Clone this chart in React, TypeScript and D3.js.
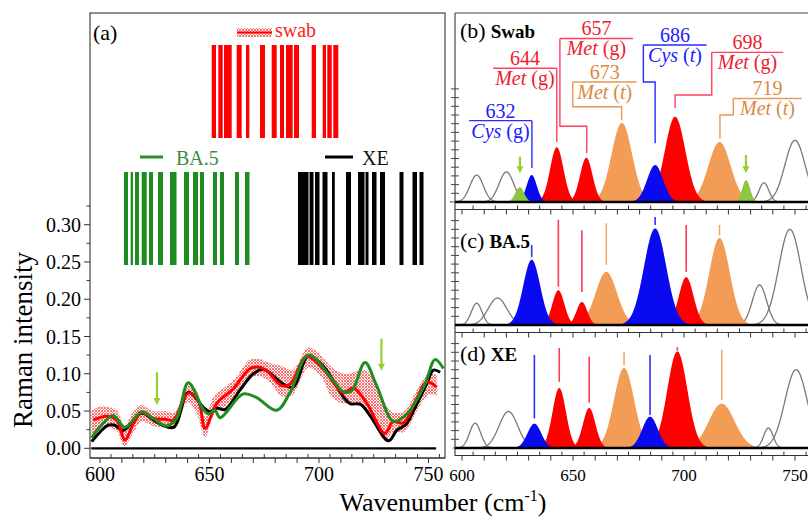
import React from 'react';
import * as d3 from 'd3';

const SERIF = "'Liberation Serif','Times New Roman',Times,serif";

// ---------- Panel (a): averaged spectra ----------
const xeWn = [596.2, 603.8, 606.8, 610.6, 619, 625.9, 633.5, 640.3, 647.2, 650.2, 653.3, 657, 663.9, 670, 674.6, 683.7, 688.3, 695.1, 702, 711.1, 714.2, 719, 723.3, 731.7, 735.5, 740, 743.1, 749.1, 752.2, 755.3];
const xeVal = [0.009, 0.031, 0.031, 0.024, 0.047, 0.035, 0.028, 0.075, 0.055, 0.049, 0.054, 0.052, 0.078, 0.1, 0.106, 0.086, 0.082, 0.124, 0.11, 0.069, 0.06, 0.059, 0.044, 0.01, 0.024, 0.033, 0.05, 0.086, 0.105, 0.102];

const swabWn = [597, 603, 607.6, 611.4, 615.2, 619, 624.3, 629.7, 633.5, 640.3, 644.9, 648, 653.3, 660.9, 668.5, 672.3, 676.1, 683, 686.8, 694.3, 701.2, 708.8, 711.1, 715.7, 721.7, 730.1, 733.9, 738.5, 744.6, 749.1, 753.7];
const swabVal = [0.038, 0.043, 0.038, 0.011, 0.033, 0.048, 0.04, 0.039, 0.038, 0.074, 0.064, 0.027, 0.06, 0.08, 0.107, 0.109, 0.104, 0.084, 0.086, 0.123, 0.109, 0.08, 0.074, 0.081, 0.061, 0.02, 0.036, 0.034, 0.066, 0.089, 0.082];

const ba5Wn = [596.2, 600, 606.1, 611.4, 619, 624.3, 630.4, 635, 640.3, 647.2, 649.5, 652.5, 654.8, 665.4, 671.5, 680.7, 686.8, 695.1, 706.5, 711.1, 714.9, 721, 726.3, 733.9, 738.5, 741.6, 748.4, 753, 756.8];
const ba5Val = [0.014, 0.029, 0.044, 0.028, 0.049, 0.04, 0.03, 0.04, 0.088, 0.052, 0.046, 0.051, 0.041, 0.073, 0.068, 0.051, 0.075, 0.125, 0.091, 0.076, 0.077, 0.115, 0.084, 0.036, 0.042, 0.051, 0.086, 0.119, 0.107];

const bandWn = [596, 600, 604, 608, 611, 615, 619, 624, 630, 634, 640, 644, 648, 652, 657, 662, 668, 672, 677, 683, 688, 695, 701, 706, 711, 716, 721, 726, 730, 734, 739, 745, 750, 754];
const bandUpper = [0.05, 0.056, 0.055, 0.05, 0.03, 0.048, 0.058, 0.05, 0.05, 0.048, 0.085, 0.078, 0.042, 0.07, 0.082, 0.095, 0.118, 0.12, 0.115, 0.11, 0.105, 0.135, 0.124, 0.108, 0.1, 0.102, 0.105, 0.09, 0.06, 0.048, 0.05, 0.08, 0.1, 0.098];
const bandLower = [0.012, 0.025, 0.028, 0.022, 0.003, 0.02, 0.036, 0.03, 0.028, 0.027, 0.062, 0.048, 0.015, 0.045, 0.056, 0.068, 0.094, 0.097, 0.09, 0.07, 0.072, 0.108, 0.096, 0.068, 0.06, 0.062, 0.052, 0.032, 0.01, 0.022, 0.022, 0.052, 0.072, 0.07];

const yTicksA = d3.range(0, 0.3001, 0.05);
const yMinorA = d3.range(0.025, 0.3251, 0.05);
const xTickLabels = [600, 650, 700, 750];

// barcodes: [start, width] in strip units (0..128)
const swabBars = [[1.7, 4.3], [8.3, 4.4], [14, 7.7], [26.7, 5], [36, 3.3], [50, 5], [61.7, 5], [70, 4], [76, 6.7], [84, 5], [101.7, 4.3], [112.7, 3.3], [117.3, 4.4], [123.3, 5]];
const ba5Bars = [[1, 4], [7.7, 2.3], [12, 4], [18.7, 5], [26, 4], [35, 5], [47, 6.5], [61, 5], [70, 5], [77, 4], [90, 4], [97, 4], [112, 4], [122, 4.5]];
const xeBars = [[0, 10.5], [11.5, 4], [17, 4.5], [24.5, 5], [34, 2.8], [48, 5], [60, 6.5], [67.5, 3], [74, 4.5], [82, 5], [101.5, 4], [114.5, 4.5], [121.5, 4]];

const arrowsA = [{ wn: 626, from: 0.102, to: 0.058 }, { wn: 728.5, from: 0.147, to: 0.104 }];

// ---------- Panels (b)-(d): fitted bands ----------
const swabCenters = [606.6, 620, 626, 631.4, 642.7, 656, 672, 687, 696, 716, 728, 736, 750];
const swabAmps = [3.1, 3.45, 1.7, 3.1, 6.3, 5.1, 9.1, 4.25, 9.8, 6.9, 2.5, 2.2, 7.1];
const swabSigmas = [3, 3.3, 2, 2.3, 3, 2.8, 4.6, 3.6, 4.6, 5, 1.8, 2.2, 4.5];
const swabKinds = ['gray', 'gray', 'green', 'blue', 'red', 'red', 'orange', 'blue', 'red', 'orange', 'green', 'gray', 'gray'];

const ba5Centers = [606.6, 616, 631.4, 643.4, 654, 665, 687, 701, 716, 734, 747.7];
const ba5Amps = [2.5, 3.1, 7.5, 4.0, 2.65, 6.1, 11.1, 5.5, 10, 4.6, 11];
const ba5Sigmas = [2.4, 4.2, 3.8, 2.7, 2.4, 4.8, 5, 3.3, 4.6, 3.2, 5];
const ba5Kinds = ['gray', 'gray', 'blue', 'red', 'red', 'orange', 'blue', 'red', 'orange', 'gray', 'gray'];
const ba5MarkTop = [null, null, 9.2, 12.1, 10.9, 11.7, 12.4, 11.5, 11.5, null, null];
const ba5MarkBottom = [null, null, 7.8, 4.4, 3.8, 6.9, 11.5, 6.1, 10.3, null, null];

const xeCenters = [605.9, 620.9, 632.6, 643.8, 657.3, 673, 684.7, 697, 717, 738, 750.5];
const xeAmps = [2.85, 4.2, 2.8, 6.9, 4.6, 9.2, 3.6, 11.1, 5.1, 2.3, 9.0];
const xeSigmas = [2.5, 4.2, 3.1, 3, 2.8, 4.5, 3.5, 4.5, 5.8, 2.1, 5];
const xeKinds = ['gray', 'gray', 'blue', 'red', 'red', 'orange', 'blue', 'red', 'orange', 'gray', 'gray'];
const xeMarkTop = [null, null, 10.7, 11.5, 10.5, 11, 10.7, 11.6, 11.3, null, null];
const xeMarkBottom = [null, null, 3.4, 7.6, 5.2, 9.5, 3.8, 11.2, 5.5, null, null];

// annotation of the swab bands: number, residue, conformer
const annoNum = ['632', '644', '657', '673', '686', '698', '719'];
const annoName = ['Cys', 'Met', 'Met', 'Met', 'Cys', 'Met', 'Met'];
const annoState = ['g', 'g', 'g', 't', 't', 'g', 't'];
const annoKind = ['blue', 'red', 'red', 'orange', 'blue', 'red', 'orange'];
const annoLineY = [9.35, 15.37, 18.8, 13.8, 18.05, 17.2, 11.9];
const annoX1 = [603.2, 614, 644.1, 649.9, 681.7, 712.5, 722.2];
const annoX2 = [631.5, 642.7, 677, 678.7, 710.2, 744.7, 753];
const annoLeadX = [631.5, 642.7, 644.1, 649.9, 681.7, 712.5, 722.2];
const annoElbowY = [3.9, 6.9, 8.7, 10.95, 13.8, 12.3, 10];
const annoPeakX = [631.5, 642.7, 656.2, 671.9, 687, 696, 716.2];
const annoEndY = [3.9, 6.9, 5.6, 9.4, 6.75, 10.8, 7.3];

const arrowsB = [{ wn: 626.1, from: 5.2, to: 3.3 }, { wn: 727.9, from: 5.4, to: 3.3 }];

const FILL: Record<string, string> = { red: '#ff0000', blue: '#0a0af0', orange: '#f39c56', green: '#8dc63f' };
const MARK: Record<string, string> = { red: '#ff3b5c', blue: '#3030ff', orange: '#f2a86a' };
const TXT: Record<string, string> = { red: '#ee1c2e', blue: '#1a1aff', orange: '#d98a3f' };
const LEAD: Record<string, string> = { red: '#ff4060', blue: '#2a2aff', orange: '#e59a55' };

function gauss(c: number, a: number, s: number): [number, number][] {
  return d3.range(c - 4 * s, c + 4 * s + 1e-6, s / 25).map((x) => [x, a * Math.exp(-((x - c) ** 2) / (2 * s * s))] as [number, number]);
}

export default function App() {
  // panel a scales
  const xa = d3.scaleLinear().domain([600, 750]).range([100, 428.5]);
  const ya = d3.scaleLinear().domain([0, 0.3]).range([448.3, 224.7]);
  const lineA = (wn: number[], v: number[]) =>
    d3.line<number>().x((_, i) => xa(wn[i])).y((d) => ya(d)).curve(d3.curveCatmullRom.alpha(0.5))(v) || '';
  const bandPath =
    d3.area<number>().x((_, i) => xa(bandWn[i])).y0((_, i) => ya(bandLower[i])).y1((d) => ya(d)).curve(d3.curveCatmullRom.alpha(0.5))(bandUpper) || '';

  // right panels
  const xr = d3.scaleLinear().domain([600, 750]).range([462, 795]);
  const panels = [
    { tag: '(b)', title: 'Swab', base: 202, nTicks: 13, centers: swabCenters, amps: swabAmps, sig: swabSigmas, kinds: swabKinds, mt: null as any, mb: null as any, labelY: 38 },
    { tag: '(c)', title: 'BA.5', base: 325, nTicks: 12, centers: ba5Centers, amps: ba5Amps, sig: ba5Sigmas, kinds: ba5Kinds, mt: ba5MarkTop, mb: ba5MarkBottom, labelY: 248 },
    { tag: '(d)', title: 'XE', base: 448, nTicks: 12, centers: xeCenters, amps: xeAmps, sig: xeSigmas, kinds: xeKinds, mt: xeMarkTop, mb: xeMarkBottom, labelY: 361 },
  ];
  const order = ['gray', 'orange', 'red', 'blue', 'green'];
  const xTicksAll = d3.range(600, 756, 5);

  const stripSwab = d3.scaleLinear().domain([0, 128]).range([210, 338]);
  const stripBa5 = d3.scaleLinear().domain([0, 128]).range([123, 251]);
  const stripXe = d3.scaleLinear().domain([0, 128]).range([298, 426]);

  const xAxisTicks = (scale: d3.ScaleLinear<number, number>, y: number, key: string) =>
    xTicksAll.map((t) => {
      const major = t % 10 === 0;
      return <line key={key + t} x1={scale(t)} x2={scale(t)} y1={major ? y : y - 4} y2={major ? y + 5 : y} stroke="#333" strokeWidth={1} />;
    });

  const arrow = (x: number, y1: number, y2: number, k: string) => (
    <g key={k}>
      <line x1={x} x2={x} y1={y1} y2={y2 - 5} stroke="#9acd32" strokeWidth={2.2} />
      <path d={`M${x - 3.5},${y2 - 7} L${x + 3.5},${y2 - 7} L${x},${y2} Z`} fill="#9acd32" />
    </g>
  );

  return (
    <svg width={808} height={518} style={{ position: 'absolute', left: 0, top: 0, background: '#fff' }} fontFamily={SERIF}>
      <defs>
        <pattern id="hatch" width={3} height={3} patternUnits="userSpaceOnUse">
          <path d="M0,0 L3,3 M3,0 L0,3" stroke="#ff2a2a" strokeWidth={0.9} opacity={0.75} />
        </pattern>
        <clipPath id="clipA">
          <rect x={90} y={13} width={355} height={445} />
        </clipPath>
      </defs>

      {/* ---------- Panel (a) ---------- */}
      <rect x={90} y={13} width={355} height={445} fill="none" stroke="#444" strokeWidth={1.2} />
      <text x={93} y={40} fontSize={22}>(a)</text>

      {/* swab legend & barcode */}
      <rect x={237} y={28} width={35} height={9} fill="url(#hatch)" />
      <line x1={237} x2={272} y1={32.5} y2={32.5} stroke="#ff0000" strokeWidth={2} />
      <text x={275} y={37} fontSize={20} fill="#ff2020">swab</text>
      {swabBars.map(([s, w], i) => (
        <rect key={'sb' + i} x={stripSwab(s)} y={45} width={stripSwab(s + w) - stripSwab(s)} height={93} fill="#ff0000" />
      ))}

      <line x1={140} x2={163} y1={157} y2={157} stroke="#2e8b2e" strokeWidth={3} />
      <text x={176} y={165} fontSize={20} fill="#3c8c3c">BA.5</text>
      {ba5Bars.map(([s, w], i) => (
        <rect key={'gb' + i} x={stripBa5(s)} y={172} width={stripBa5(s + w) - stripBa5(s)} height={93} fill="#1e8c1e" />
      ))}

      <line x1={325} x2={353} y1={157} y2={157} stroke="#000" strokeWidth={3} />
      <text x={362} y={165} fontSize={20} fill="#111">XE</text>
      {xeBars.map(([s, w], i) => (
        <rect key={'kb' + i} x={stripXe(s)} y={172} width={stripXe(s + w) - stripXe(s)} height={93} fill="#000" />
      ))}

      {/* y axis a */}
      {yTicksA.map((t) => (
        <g key={'ya' + t}>
          <line x1={84} x2={90} y1={ya(t)} y2={ya(t)} stroke="#333" />
          <text x={81} y={ya(t) + 7} fontSize={20} textAnchor="end">{t.toFixed(2)}</text>
        </g>
      ))}
      {yMinorA.map((t) => (
        <line key={'ym' + t} x1={86.5} x2={90} y1={ya(t)} y2={ya(t)} stroke="#333" />
      ))}
      <text transform={`translate(32,340) rotate(-90)`} fontSize={27} textAnchor="middle">Raman intensity</text>

      {/* spectra */}
      <g clipPath="url(#clipA)">
        <line x1={xa(596)} x2={xa(753.5)} y1={ya(0)} y2={ya(0)} stroke="#000" strokeWidth={2.2} />
        <path d={bandPath} fill="url(#hatch)" stroke="none" />
        <path d={lineA(xeWn, xeVal)} fill="none" stroke="#000" strokeWidth={3} />
        <path d={lineA(swabWn, swabVal)} fill="none" stroke="#ff0000" strokeWidth={3} />
        <path d={lineA(ba5Wn, ba5Val)} fill="none" stroke="#1e8c1e" strokeWidth={3} />
        {arrowsA.map((a, i) => arrow(xa(a.wn), ya(a.from), ya(a.to), 'aa' + i))}
      </g>

      {/* x axis a */}
      <line x1={90} x2={445} y1={458} y2={458} stroke="#333" />
      {xAxisTicks(xa, 458, 'xa')}
      {xTickLabels.map((t) => (
        <text key={'xal' + t} x={xa(t)} y={481} fontSize={20} textAnchor="middle">{t}</text>
      ))}

      {/* ---------- Panels (b)-(d) ---------- */}
      <line x1={455} x2={808} y1={13} y2={13} stroke="#444" strokeWidth={1.2} />
      <line x1={455} x2={455} y1={13} y2={456} stroke="#444" strokeWidth={1.2} />
      {panels.map((p, pi) => {
        const y = d3.scaleLinear().domain([0, 10]).range([p.base, p.base - 87]);
        const area = d3.area<[number, number]>().x((d) => xr(d[0])).y0(y(0)).y1((d) => y(d[1]));
        const line = d3.line<[number, number]>().x((d) => xr(d[0])).y((d) => y(d[1]));
        const idx = p.centers.map((_, i) => i);
        const axisY = p.base + 7.5;
        return (
          <g key={'p' + pi}>
            {order.map((k) =>
              idx
                .filter((i) => p.kinds[i] === k)
                .map((i) => {
                  const pts = gauss(p.centers[i], p.amps[i], p.sig[i]);
                  return k === 'gray' ? (
                    <path key={'g' + pi + i} d={line(pts) || ''} fill="none" stroke="#7a7a7a" strokeWidth={1.3} />
                  ) : (
                    <path key={'f' + pi + i} d={area(pts) || ''} fill={FILL[k]} />
                  );
                })
            )}
            {p.mt &&
              idx
                .filter((i) => p.mt[i] != null)
                .map((i) => (
                  <line key={'m' + pi + i} x1={xr(p.centers[i])} x2={xr(p.centers[i])} y1={y(p.mt[i])} y2={y(p.mb[i])} stroke={MARK[p.kinds[i]]} strokeWidth={1.6} />
                ))}
            {d3.range(1, p.nTicks + 1).map((t) => (
              <line key={'yt' + pi + t} x1={451} x2={459} y1={y(t)} y2={y(t)} stroke="#444" />
            ))}
            <line x1={455} x2={808} y1={p.base} y2={p.base} stroke="#000" strokeWidth={2.4} />
            <line x1={455} x2={808} y1={axisY} y2={axisY} stroke="#333" />
            {xAxisTicks(xr, axisY, 'xr' + pi)}
            <text x={460} y={p.labelY} fontSize={22}>
              {p.tag}
              <tspan fontWeight="bold" fontSize={19} dx={5}>{p.title}</tspan>
            </text>
            {pi === 0 &&
              annoNum.map((n, i) => {
                const k = annoKind[i];
                const cx = (xr(annoX1[i]) + xr(annoX2[i])) / 2;
                const ly = y(annoLineY[i]);
                const lead = `M${xr(annoLeadX[i])},${ly} L${xr(annoLeadX[i])},${y(annoElbowY[i])} L${xr(annoPeakX[i])},${y(annoElbowY[i])} L${xr(annoPeakX[i])},${y(annoEndY[i])}`;
                return (
                  <g key={'an' + i}>
                    <line x1={xr(annoX1[i])} x2={xr(annoX2[i])} y1={ly} y2={ly} stroke={LEAD[k]} strokeWidth={1.4} />
                    <path d={lead} fill="none" stroke={LEAD[k]} strokeWidth={1.4} />
                    <text x={cx} y={ly - 3} fontSize={20} textAnchor="middle" fill={TXT[k]}>{n}</text>
                    <text x={cx} y={ly + 17} fontSize={20} textAnchor="middle" fill={TXT[k]}>
                      <tspan fontStyle="italic">{annoName[i]}</tspan>
                      {' ('}
                      <tspan fontStyle={annoState[i] === 't' ? 'italic' : 'normal'}>{annoState[i]}</tspan>
                      {')'}
                    </text>
                  </g>
                );
              })}
            {pi === 0 && arrowsB.map((a, i) => arrow(xr(a.wn), y(a.from), y(a.to), 'ab' + i))}
          </g>
        );
      })}
      {xTickLabels.map((t) => (
        <text key={'xrl' + t} x={xr(t)} y={481} fontSize={17} textAnchor="middle">{t}</text>
      ))}

      <text x={443} y={511} fontSize={26} textAnchor="middle">
        Wavenumber (cm
        <tspan dy={-10} fontSize={16}>-1</tspan>
        <tspan dy={10}>)</tspan>
      </text>
    </svg>
  );
}
